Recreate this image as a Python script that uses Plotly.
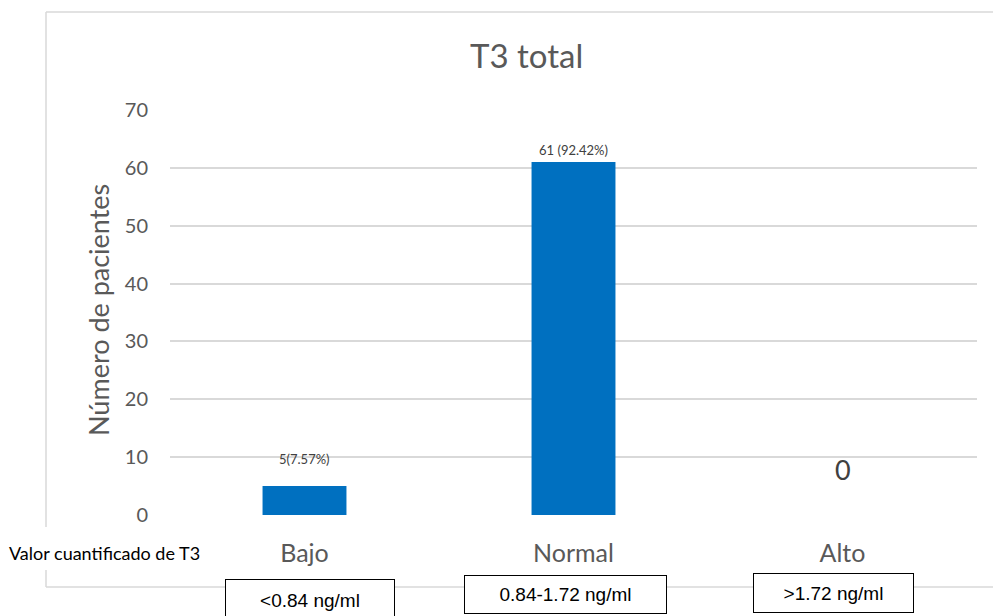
import plotly.graph_objects as go

# Data
categories = ["Bajo", "Normal", "Alto"]
patients = [5, 61, 0]
value_labels = ["5(7.57%)", "61 (92.42%)", "0"]
ranges = ["<0.84 ng/ml", "0.84-1.72 ng/ml", ">1.72 ng/ml"]
y_ticks = [0, 10, 20, 30, 40, 50, 60, 70]

W, H = 993, 616
L, R, T, B = 170, 977, 110, 515   # plot-area edges in pixels

def px_x(px):
    return (px - L) / (R - L)

def px_y(py):
    return (B - py) / (B - T)

GRID = "#d9d9d9"
TXT = "#595959"
FONT = "Lato"

fig = go.Figure(
    go.Bar(
        x=categories,
        y=patients,
        marker=dict(color="#0070C0", line=dict(width=0)),
        hoverinfo="x+y",
    )
)

# value labels above each bar
label_sizes = [13, 13, 27]
label_shifts = [17, 2, 27]
annotations = []
for cat, val, txt, fs, sh in zip(categories, patients, value_labels, label_sizes, label_shifts):
    annotations.append(dict(
        x=cat, y=val, xref="x", yref="y", text=txt, showarrow=False,
        yanchor="bottom", yshift=sh,
        font=dict(family=FONT, size=fs, color="#404040"),
    ))

# chart title
annotations.append(dict(
    x=px_x(526), y=px_y(55), xref="paper", yref="paper", text="T3 total",
    showarrow=False, xanchor="center", yanchor="middle",
    font=dict(family=FONT, size=33, color=TXT),
))

# y axis title
annotations.append(dict(
    x=px_x(98), y=px_y(310), xref="paper", yref="paper", text="Número de pacientes",
    showarrow=False, xanchor="center", yanchor="middle", textangle=-90,
    font=dict(family=FONT, size=27, color=TXT),
))

# x axis caption on the left
annotations.append(dict(
    x=px_x(7), y=px_y(553), xref="paper", yref="paper", text="Valor cuantificado de T3",
    showarrow=False, xanchor="left", yanchor="middle",
    font=dict(family=FONT, size=18, color="#000000"),
))

# boxed reference ranges under each category
boxes = [(225, 395, 579, 622), (464, 667, 575, 614), (753, 914, 573, 613)]
for txt, (x0, x1, y0, y1) in zip(ranges, boxes):
    annotations.append(dict(
        x=px_x((x0 + x1) / 2), y=px_y((y0 + y1) / 2), xref="paper", yref="paper",
        text=txt, showarrow=False, xanchor="center", yanchor="middle",
        width=x1 - x0 - 2, height=y1 - y0 - 2, borderpad=0,
        bordercolor="#000000", borderwidth=1, bgcolor="#ffffff",
        font=dict(family="Liberation Sans", size=19, color="#000000"),
    ))

# outer frame of the chart area (left edge broken around the caption)
frame = [
    (46, 12, 46, 527),
    (46, 570, 46, 587),
    (46, 12, 1010, 12),
    (46, 587, 1010, 587),
]
shapes = [
    dict(type="line", xref="paper", yref="paper",
         x0=px_x(a), y0=px_y(b), x1=px_x(c), y1=px_y(d),
         line=dict(color=GRID, width=1.5), layer="below")
    for a, b, c, d in frame
]

fig.update_layout(
    width=W, height=H,
    margin=dict(l=L, r=W - R, t=T, b=H - B, pad=0),
    paper_bgcolor="#ffffff", plot_bgcolor="#ffffff",
    bargap=0.688,
    showlegend=False,
    annotations=annotations,
    shapes=shapes,
    xaxis=dict(
        showgrid=False, showline=False, zeroline=False, ticks="",
        tickfont=dict(family=FONT, size=25, color=TXT),
        ticklabelstandoff=21,
    ),
    yaxis=dict(
        range=[0, 70], tickvals=y_ticks, showgrid=True, gridcolor=GRID, gridwidth=1.5,
        showline=False, zeroline=False, ticks="",
        tickfont=dict(family=FONT, size=20, color=TXT),
        ticklabelstandoff=21,
    ),
)

fig.write_html("out.html")
